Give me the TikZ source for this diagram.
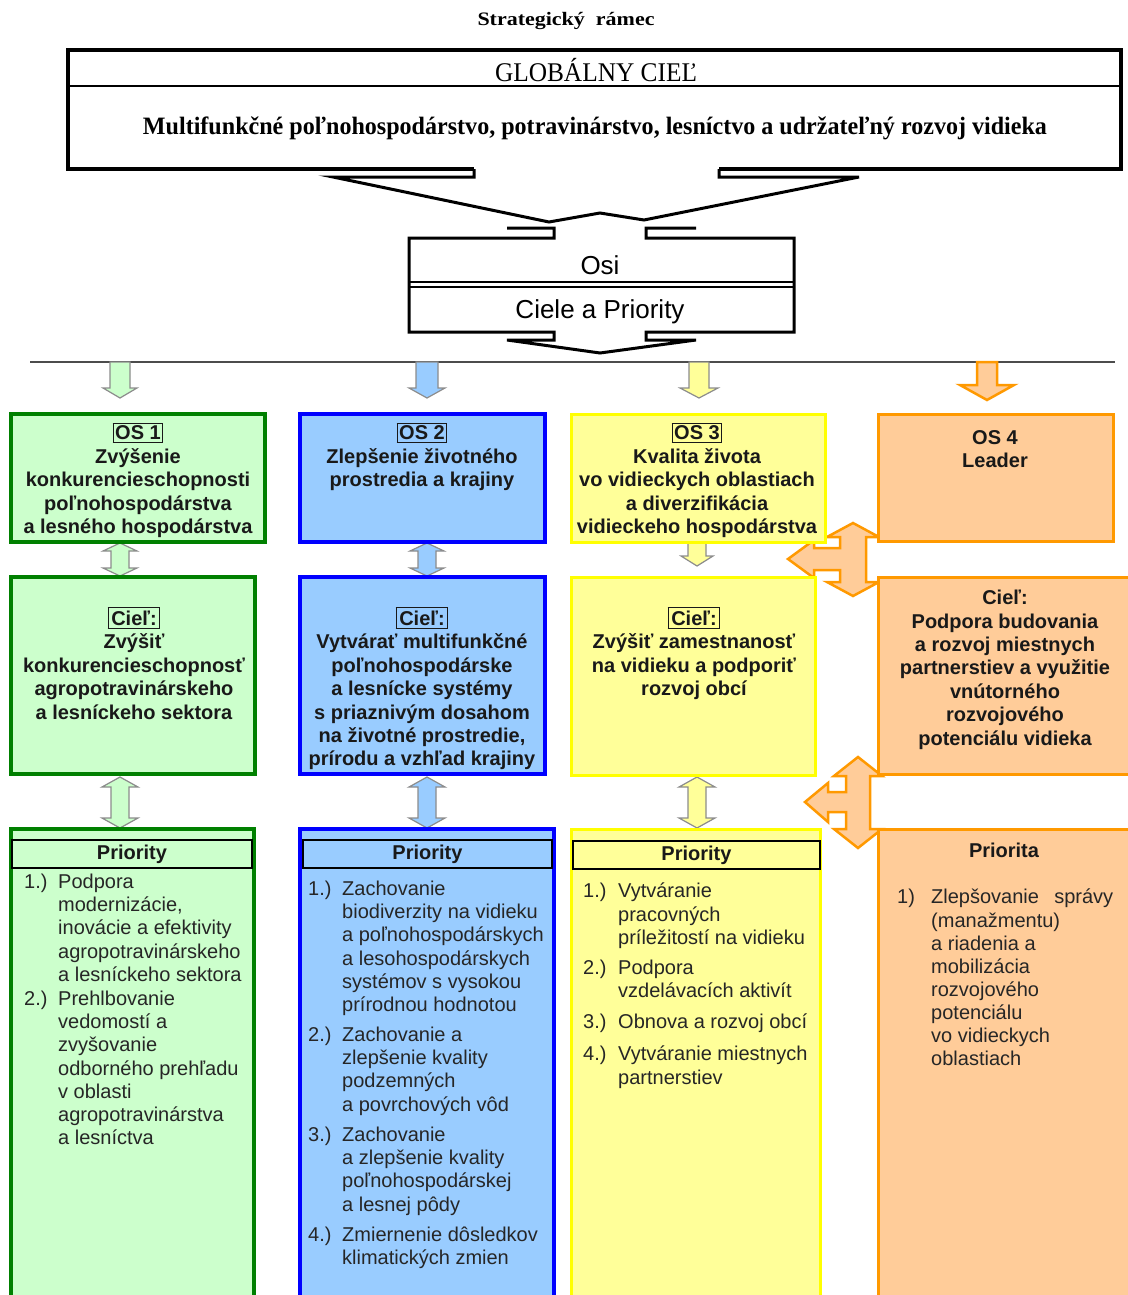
\documentclass[tikz,border=0pt]{standalone}
\usepackage{fontspec}
\usepackage{graphicx}
\setmainfont{Liberation Serif}
\setsansfont{Liberation Sans}
\definecolor{gfill}{HTML}{CCFFCC}
\definecolor{gline}{HTML}{008000}
\definecolor{bfill}{HTML}{99CCFF}
\definecolor{bline}{HTML}{0000FF}
\definecolor{yfill}{HTML}{FFFF99}
\definecolor{yline}{HTML}{FFFF00}
\definecolor{ofill}{HTML}{FFCC99}
\definecolor{oline}{HTML}{FF9900}
\newcommand\bsf{\fontsize{20}{23.4}\selectfont\sffamily\bfseries}
\newcommand\rsf{\fontsize{20}{23.1}\selectfont\sffamily}
\newcommand\frm[2]{{\setlength\fboxsep{#1}\setlength\fboxrule{1.2pt}\fbox{#2}}}
% single down arrow: cx, ytop, ybase, ytip, shaft half, head half, style
\newcommand\sdarrow[7]{\draw[#7] ({#1-#5},#2) -- ({#1-#5},#3) -- ({#1-#6},#3) -- (#1,#4) -- ({#1+#6},#3) -- ({#1+#5},#3) -- ({#1+#5},#2) -- cycle;}
% double vertical arrow: cx, ytip1, ytip2, shaft half, head half, head length, style
\newcommand\ddarrow[7]{\draw[#7] (#1,#2) -- ({#1+#5},{#2+#6}) -- ({#1+#4},{#2+#6}) -- ({#1+#4},{#3-#6}) -- ({#1+#5},{#3-#6}) -- (#1,#3) -- ({#1-#5},{#3-#6}) -- ({#1-#4},{#3-#6}) -- ({#1-#4},{#2+#6}) -- ({#1-#5},{#2+#6}) -- cycle;}
\begin{document}
\begin{tikzpicture}[x=1pt,y=-1pt,
  bt/.style={font=\bsf, align=center, inner sep=0pt, text=black!90},
  rt/.style={font=\rsf, align=left, inner sep=0pt, anchor=north west, text=black!85},
  hdr/.style={draw=black, line width=1.5pt, inner sep=0pt, font=\bsf, text=black!90, minimum height=28pt},
  gbox/.style={fill=gfill, draw=gline, line width=3.5pt},
  bbox/.style={fill=bfill, draw=bline, line width=3.5pt},
  ybox/.style={fill=yfill, draw=yline, line width=3pt},
  obox/.style={fill=ofill, draw=oline, line width=3pt},
  garr/.style={fill=gfill, draw=black!45, line width=1.2pt, line join=miter},
  barr/.style={fill=bfill, draw=black!45, line width=1.2pt, line join=miter},
  yarr/.style={fill=yfill, draw=black!45, line width=1.2pt, line join=miter},
  oarr/.style={fill=ofill, draw=oline, line width=2.5pt, line join=miter},
  blk/.style={draw=black, line width=3pt, line join=miter}]
\useasboundingbox (0,0) rectangle (1127,1295);
\fill[white] (0,0) rectangle (1127,1295);

% ---------- top ----------
\node[font=\fontsize{19}{19}\selectfont\bfseries, inner sep=0pt] (title) at (566,21) {\resizebox{177pt}{\height}{Strategický\ \ rámec}};
\draw[line width=4.5pt, line join=miter] (474,169) -- (68,169) -- (68,50) -- (1121,50) -- (1121,169) -- (719,169);
\draw[line width=2.5pt] (68,86) -- (1121,86);
\node[font=\fontsize{27}{27}\selectfont, inner sep=0pt] (glob) at (596,70) {\resizebox{202pt}{\height}{GLOBÁLNY CIEĽ}};
\node[font=\fontsize{25}{27}\selectfont\bfseries, inner sep=0pt] (gtext) at (595,128) {\resizebox{904pt}{\height}{Multifunkčné poľnohospodárstvo, potravinárstvo, lesníctvo a udržateľný rozvoj vidieka}};
\draw[blk] (474,169) -- (474,177) -- (333,177) -- (549,222) -- (600,213) -- (644,220) -- (859,177) -- (719,177) -- (719,169);

% ---------- Osi box ----------
\draw[blk] (507,228) -- (554,228) -- (554,238) -- (409,238) -- (409,332) -- (554,332) -- (554,340) -- (507,340) -- (600,353) -- (696,340) -- (646,340) -- (646,332) -- (794,332) -- (794,238) -- (646,238) -- (646,228) -- (696,228);
\draw[line width=2pt] (409,282) -- (794,282);
\draw[line width=2pt] (409,287) -- (794,287);
\node[font=\fontsize{26}{26}\selectfont\sffamily, inner sep=0pt] (osi) at (600,265) {Osi};
\node[font=\fontsize{26}{26}\selectfont\sffamily, inner sep=0pt] (ciele) at (600,312) {Ciele a Priority};

\draw[line width=2pt, black!70] (30,362) -- (1115,362);

% ---------- arrows below line ----------
\sdarrow{120}{362}{388}{398}{10}{17}{garr}
\sdarrow{427}{362}{388}{398}{11}{18}{barr}
\sdarrow{699}{362}{388}{398}{10}{19}{yarr}
\sdarrow{987}{362}{385}{400}{10}{27}{oarr}

% ---------- arrows between rows ----------
\ddarrow{120}{543}{576}{9}{17}{8}{garr}
\ddarrow{427}{543}{576}{9}{17}{8}{barr}
\sdarrow{697}{543}{556}{566}{9}{16}{yarr}
\ddarrow{120}{777}{828}{9}{18}{10}{garr}
\ddarrow{427}{777}{828}{9}{18}{10}{barr}
\ddarrow{697}{777}{828}{9}{18}{10}{yarr}

% orange three-way arrows
\draw[oarr] (853,523) -- (879,537) -- (866,537) -- (866,582) -- (879,582) -- (853,596) -- (827,582) -- (840,582) -- (840,570) -- (814,570) -- (814,578) -- (788,559) -- (814,540) -- (814,548) -- (840,548) -- (840,537) -- (827,537) -- cycle;
\draw[oarr] (858,757) -- (882,776) -- (870,776) -- (870,829) -- (882,829) -- (858,848) -- (834,829) -- (846,829) -- (846,812) -- (828,812) -- (828,822) -- (805,802) -- (828,783) -- (828,792) -- (846,792) -- (846,776) -- (834,776) -- cycle;

% ---------- boxes ----------
\draw[gbox] (11,414) rectangle (265,542);
\draw[bbox] (300,414) rectangle (545,542);
\draw[ybox] (571,414) rectangle (825,542);
\draw[obox] (878,414) rectangle (1113,541);

\draw[gbox] (11,577) rectangle (255,774);
\draw[bbox] (300,577) rectangle (545,774);
\draw[ybox] (571,577) rectangle (815,775);
\draw[obox] (878,577) rectangle (1140,774);

\draw[gbox] (11,829) rectangle (254,1310);
\draw[bbox] (300,829) rectangle (554,1310);
\draw[ybox] (571,829) rectangle (820,1310);
\draw[obox] (878,829) rectangle (1140,1310);

% ---------- row 1 texts ----------
\node[bt, anchor=north] (os1) at (138,423) {\frm{1.5pt}{OS 1}\\Zvýšenie\\konkurencieschopnosti\\poľnohospodárstva\\a lesného hospodárstva};
\node[bt, anchor=north] (os2) at (422,423) {\frm{1.5pt}{OS 2}\\Zlepšenie životného\\prostredia a krajiny};
\node[bt, anchor=north] (os3) at (697,423) {\frm{1.5pt}{OS 3}\\Kvalita života\\vo vidieckych oblastiach\\a diverzifikácia\\vidieckeho hospodárstva};
\node[bt, anchor=north] (os4) at (995,430) {OS 4\\Leader};

% ---------- row 2 texts ----------
\node[bt, anchor=north] (c1) at (134,607) {\frm{2.5pt}{Cieľ:}\\Zvýšiť\\konkurencieschopnosť\\agropotravinárskeho\\a lesníckeho sektora};
\node[bt, anchor=north] (c2) at (422,607) {\frm{2.5pt}{Cieľ:}\\Vytvárať multifunkčné\\poľnohospodárske\\a lesnícke systémy\\s priaznivým dosahom\\na životné prostredie,\\prírodu a vzhľad krajiny};
\node[bt, anchor=north] (c3) at (694,607) {\frm{2.5pt}{Cieľ:}\\Zvýšiť zamestnanosť\\na vidieku a podporiť\\rozvoj obcí};
\node[bt, anchor=north] (c4) at (1005,590) {Cieľ:\\Podpora budovania\\a rozvoj miestnych\\partnerstiev a využitie\\vnútorného\\rozvojového\\potenciálu vidieka};

% ---------- row 3 ----------
\node[hdr, fill=gfill, minimum width=240pt] (h1) at (132,854) {Priority};
\node[hdr, fill=bfill, minimum width=249pt] (h2) at (427.5,854) {Priority};
\node[hdr, fill=yfill, minimum width=247pt] (h3) at (696.5,855) {Priority};
\node[bt] (h4) at (1004,850) {Priorita};

\node[rt] (g1n) at (24,874) {1.)};
\node[rt] (g1) at (58,874) {Podpora\\modernizácie,\\inovácie a efektivity\\agropotravinárskeho\\a lesníckeho sektora};
\node[rt] (g2n) at (24,991) {2.)};
\node[rt] (g2) at (58,991) {Prehlbovanie\\vedomostí a\\zvyšovanie\\odborného prehľadu\\v oblasti\\agropotravinárstva\\a lesníctva};

\node[rt] (b1n) at (308,881) {1.)};
\node[rt] (b1) at (342,881) {Zachovanie\\biodiverzity na vidieku\\a poľnohospodárskych\\a lesohospodárskych\\systémov s vysokou\\prírodnou hodnotou};
\node[rt] (b2n) at (308,1027) {2.)};
\node[rt] (b2) at (342,1027) {Zachovanie a\\zlepšenie kvality\\podzemných\\a povrchových vôd};
\node[rt] (b3n) at (308,1127) {3.)};
\node[rt] (b3) at (342,1127) {Zachovanie\\a zlepšenie kvality\\poľnohospodárskej\\a lesnej pôdy};
\node[rt] (b4n) at (308,1227) {4.)};
\node[rt] (b4) at (342,1227) {Zmiernenie dôsledkov\\klimatických zmien};

\node[rt] (y1n) at (583,883) {1.)};
\node[rt] (y1) at (618,883) {Vytváranie\\pracovných\\príležitostí na vidieku};
\node[rt] (y2n) at (583,960) {2.)};
\node[rt] (y2) at (618,960) {Podpora\\vzdelávacích aktivít};
\node[rt] (y3n) at (583,1014) {3.)};
\node[rt] (y3) at (618,1014) {Obnova a rozvoj obcí};
\node[rt] (y4n) at (583,1046) {4.)};
\node[rt] (y4) at (618,1046) {Vytváranie miestnych\\partnerstiev};

\node[rt] (o1n) at (897,889) {1)};
\node[rt] (o1) at (931,889) {\makebox[182pt][s]{Zlepšovanie\ \ správy}\\(manažmentu)\\a riadenia a\\mobilizácia\\rozvojového\\potenciálu\\vo vidieckych\\oblastiach};
\end{tikzpicture}
\end{document}
